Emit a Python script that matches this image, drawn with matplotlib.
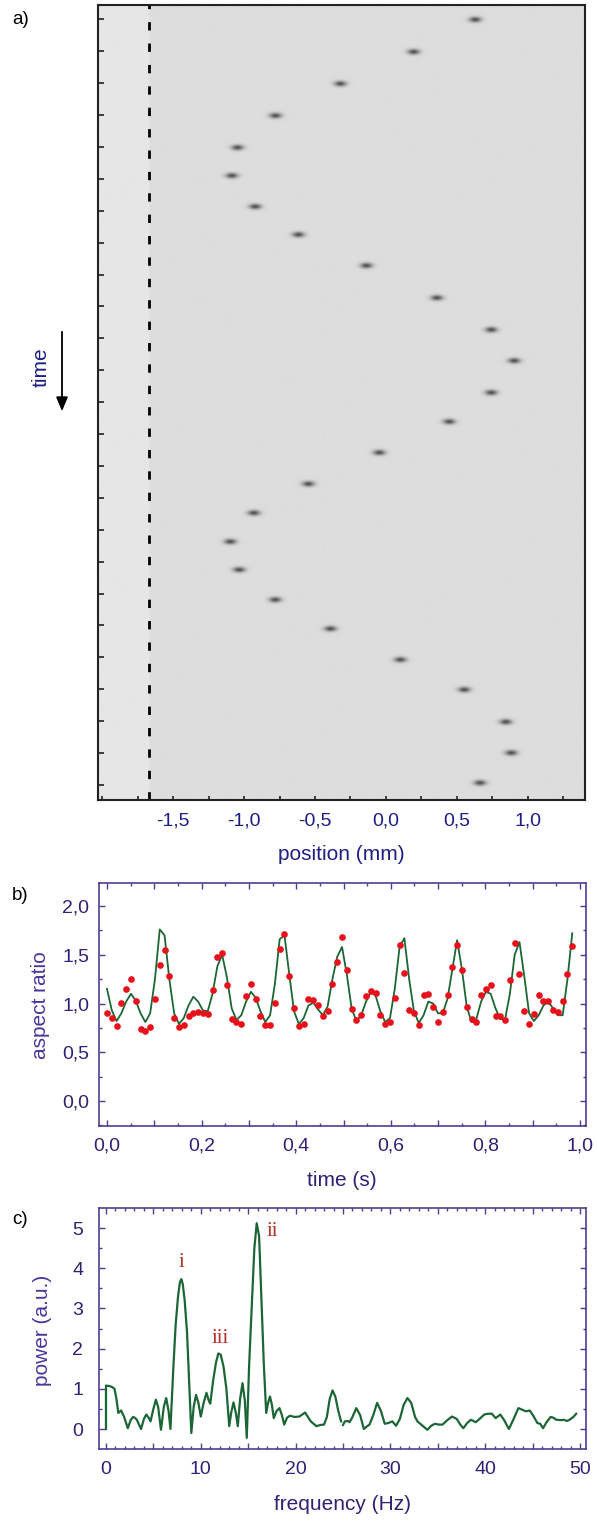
import matplotlib
matplotlib.use("Agg")
import matplotlib.pyplot as plt
import numpy as np
from matplotlib.ticker import MultipleLocator, FuncFormatter

plt.rcParams['font.family'] = ['Liberation Sans', 'DejaVu Sans']

# ---- panel a: particle position in successive frames ----
blob_pos = [0.628, 0.194, -0.323, -0.780, -1.048, -1.088, -0.923, -0.618, -0.139, 0.358,
            0.741, 0.903, 0.741, 0.445, -0.048, -0.548, -0.933, -1.099, -1.036, -0.782,
            -0.393, 0.100, 0.551, 0.844, 0.882, 0.662]
blob_time = [0.02, 1.03, 2.03, 3.03, 4.03, 4.91, 5.88, 6.76, 7.73, 8.74,
             9.74, 10.71, 11.71, 12.62, 13.59, 14.57, 15.48, 16.38, 17.26, 18.20,
             19.11, 20.08, 21.02, 22.03, 23.00, 23.94]
wall_pos = -1.668
pos_ticks = [-1.5, -1.0, -0.5, 0.0, 0.5, 1.0]

# ---- panel b: aspect ratio vs time ----
dt = 0.01014
ratio_meas = [0.90, 0.85, 0.77, 1.01, 1.15, 1.25, 1.03, 0.74, 0.72, 0.76,
              1.05, 1.40, 1.55, 1.28, 0.85, 0.76, 0.78, 0.87, 0.90, 0.91,
              0.90, 0.89, 1.14, 1.48, 1.52, 1.19, 0.84, 0.81, 0.79, 1.08,
              1.20, 1.05, 0.87, 0.78, 0.78, 1.01, 1.56, 1.71, 1.28, 0.95,
              0.77, 0.79, 1.05, 1.04, 0.99, 0.87, 0.92, 1.20, 1.43, 1.68,
              1.34, 0.94, 0.83, 0.88, 1.08, 1.13, 1.11, 0.88, 0.79, 0.81,
              1.06, 1.60, 1.31, 0.93, 0.90, 0.78, 1.085, 1.10, 0.96, 0.81,
              0.91, 1.085, 1.375, 1.60, 1.34, 0.96, 0.84, 0.81, 1.085, 1.146,
              1.19, 0.87, 0.87, 0.83, 1.245, 1.62, 1.30, 0.92, 0.785, 0.89,
              1.085, 1.03, 1.03, 0.93, 0.91, 1.03, 1.307, 1.59]
ratio_fit = [1.15, 0.93, 0.82, 0.90, 1.02, 1.10, 1.03, 0.90, 0.81, 0.90,
             1.25, 1.76, 1.70, 1.25, 0.90, 0.79, 0.85, 0.98, 1.07, 1.02,
             0.93, 0.92, 1.10, 1.38, 1.50, 1.27, 0.95, 0.83, 0.88, 1.02,
             1.12, 1.06, 0.92, 0.81, 0.88, 1.20, 1.66, 1.70, 1.30, 0.92,
             0.79, 0.85, 0.98, 1.01, 0.94, 0.88, 0.97, 1.25, 1.48, 1.58,
             1.30, 0.95, 0.82, 0.88, 1.02, 1.12, 1.08, 0.92, 0.81, 0.85,
             1.15, 1.58, 1.67, 1.25, 0.92, 0.80, 0.88, 1.02, 1.00, 0.90,
             0.90, 1.05, 1.35, 1.65, 1.35, 0.97, 0.81, 0.84, 1.02, 1.12,
             1.10, 0.95, 0.84, 0.84, 1.10, 1.50, 1.63, 1.28, 0.90, 0.82,
             0.88, 0.98, 1.02, 0.95, 0.88, 0.88, 1.25, 1.72]
time_s = np.arange(len(ratio_meas)) * dt

# ---- panel c: power spectrum ----
freq = [0.0, 0.0, 0.3, 0.6, 0.9, 1.1, 1.3, 1.6, 1.9, 2.3, 2.6, 2.85, 3.05, 3.25, 3.7,
        4.0, 4.25, 4.5, 4.7, 5.0, 5.26, 5.5, 5.8, 6.1, 6.35, 6.6, 6.8, 7.1, 7.35, 7.6,
        7.8, 7.95, 8.1, 8.3, 8.55, 8.8, 9.0, 9.25, 9.5, 9.75, 10.0, 10.3, 10.6, 10.85,
        11.0, 11.3, 11.6, 11.85, 12.1, 12.4, 12.7, 13.0, 13.2, 13.45, 13.7, 13.9,
        14.15, 14.4, 14.65, 14.85, 15.1, 15.4, 15.65, 15.9, 16.15, 16.4, 16.65, 16.9,
        17.1, 17.3, 17.5, 17.7, 18.0, 18.3, 18.55, 18.8, 19.1, 19.4, 19.9, 20.4, 21.0,
        21.6, 22.2, 22.6, 23.0, 23.3, 23.6, 23.9, 24.2, 24.5, 24.8, 24.9, 25.0, 25.2,
        25.5, 25.7, 26.0, 26.4, 26.8, 27.2, 27.5, 27.8, 28.2, 28.6, 29.0, 29.4, 29.8,
        30.2, 30.6, 31.0, 31.4, 31.8, 32.2, 32.6, 32.85, 33.3, 33.9, 34.3, 34.7, 35.1,
        35.5, 36.0, 36.5, 37.0, 37.4, 37.7, 38.1, 38.5, 39.0, 39.4, 39.9, 40.3, 40.7,
        41.1, 41.6, 42.0, 42.5, 43.0, 43.5, 43.9, 44.3, 44.7, 45.1, 45.5, 45.8, 46.1,
        46.5, 46.9, 47.2, 47.5, 48.0, 48.3, 48.6, 48.9, 49.3, 49.6]
power = [0.0, 1.08, 1.07, 1.05, 1.0, 0.75, 0.40, 0.46, 0.31, 0.02, 0.22, 0.30, 0.28, 0.23, 0.0,
         0.25, 0.36, 0.28, 0.19, 0.50, 0.73, 0.55, -0.02, 0.55, 0.77, 0.45, 0.0, 1.5, 2.6, 3.3,
         3.65, 3.73, 3.6, 3.2, 2.4, 1.0, -0.1, 0.55, 0.85, 0.65, 0.31, 0.65, 0.90, 0.70,
         0.63, 1.2, 1.65, 1.88, 1.85, 1.55, 1.0, 0.07, 0.40, 0.66, 0.40, 0.07,
         0.75, 1.14, 0.70, -0.22, 1.6, 3.2, 4.5, 5.12, 4.8, 3.2, 1.6, 0.40,
         0.65, 0.81, 0.60, 0.27, 0.45, 0.52, 0.35, 0.11, 0.28, 0.33, 0.30, 0.31, 0.41,
         0.19, 0.07, 0.10, 0.11, 0.30, 0.75, 0.96, 0.80, 0.45, 0.19, np.nan, 0.10, 0.19,
         0.20, 0.17, 0.30, 0.52, 0.35, 0.0, 0.06, 0.11, 0.35, 0.65, 0.45, 0.13, 0.15,
         0.19, 0.08, 0.25, 0.60, 0.77, 0.65, 0.30, 0.19, 0.10, -0.02, 0.08, 0.13, 0.11,
         0.11, 0.22, 0.31, 0.25, 0.10, 0.02, 0.15, 0.23, 0.17, 0.25, 0.36, 0.38, 0.38,
         0.27, 0.36, 0.22, 0.0, 0.25, 0.52, 0.48, 0.44, 0.46, 0.32, 0.15, 0.13, 0.02,
         0.18, 0.30, 0.28, 0.23, 0.22, 0.23, 0.20, 0.23, 0.30, 0.38]
peak_names = ['i', 'iii', 'ii']
peak_f = [8.0, 12.1, 17.5]
peak_p = [4.13, 2.26, 4.92]

W, H = 597, 1522
def fx(x):
    return x / W
def fy(y):
    return 1 - y / H

navy = '#1e1e86'
purple = '#4b3f91'
purple_txt = '#2e2275'
green = '#1c6636'

def comma(v, pos):
    s = '%.1f' % v
    if s == '-0.0':
        s = '0.0'
    return s.replace('.', ',')

fig = plt.figure(figsize=(W / 100, H / 100), dpi=100)

# ================= a) =================
ax_a = fig.add_axes([fx(98), fy(800), (584.5 - 98) / W, (800 - 4.7) / H])
xl = (-2.03, 1.40)
yl = (24.47, -0.46)
xs = np.linspace(xl[0], xl[1], 973)
ys = np.linspace(yl[1], yl[0], 1590)
X, Y = np.meshgrid(xs, ys)
img = np.full(X.shape, 0.865)
img[X < wall_pos] = 0.9
for bx, bt in zip(blob_pos, blob_time):
    img -= 0.55 * np.exp(-0.5 * ((X - bx) / 0.03) ** 2 - 0.5 * ((Y - bt) / 0.06) ** 2)
ax_a.imshow(img, cmap='gray', vmin=0, vmax=1, extent=[xl[0], xl[1], yl[0], yl[1]],
            aspect='auto', interpolation='antialiased')
ax_a.axvline(wall_pos, color='black', lw=2, dashes=(3, 4.7))
ax_a.set_xlim(xl)
ax_a.set_ylim(yl)
ax_a.set_xticks(pos_ticks)
ax_a.xaxis.set_minor_locator(MultipleLocator(0.25))
ax_a.xaxis.set_major_formatter(FuncFormatter(lambda v, p: comma(v, p)))
ax_a.set_yticks(np.arange(0, 25))
ax_a.set_yticklabels([])
ax_a.tick_params(axis='x', which='both', direction='in', length=3, width=1.2,
                 color='#222222', labelsize=14, labelcolor=navy, pad=9)
ax_a.tick_params(axis='y', which='both', direction='in', length=4, width=1.2,
                 color='#222222')
for s in ax_a.spines.values():
    s.set_color('#222222')
    s.set_linewidth(1.5)
fig.text(fx(341), fy(854), 'position (mm)', color=navy, fontsize=15,
         ha='center', va='center')
fig.text(fx(12), fy(20), 'a)', fontsize=13.5, ha='left', va='center')
fig.text(fx(41), fy(367), 'time', color=navy, fontsize=15, rotation=90,
         ha='center', va='center')
fig.add_artist(matplotlib.patches.FancyArrowPatch(
    (fx(62), fy(329)), (fx(62), fy(414)), transform=fig.transFigure,
    arrowstyle='-|>,head_length=0.6,head_width=0.25', mutation_scale=14,
    color='black', lw=1.3))

# ================= b) =================
ax_b = fig.add_axes([fx(99), fy(1126), (585.5 - 99) / W, (1126 - 883.3) / H])
ax_b.plot(time_s, ratio_fit, color=green, lw=1.3, zorder=2)
ax_b.plot(time_s, ratio_meas, 'o', color='#e8101a', ms=4.8, mec='none', zorder=3)
ax_b.set_xlim(-0.0169, 1.0116)
ax_b.set_ylim(-0.256, 2.233)
ax_b.xaxis.set_major_locator(MultipleLocator(0.1))
ax_b.xaxis.set_minor_locator(MultipleLocator(0.05))
ax_b.xaxis.set_major_formatter(FuncFormatter(
    lambda v, p: comma(v, p) if abs(round(v * 10)) % 2 == 0 else ''))
ax_b.yaxis.set_major_locator(MultipleLocator(0.5))
ax_b.yaxis.set_minor_locator(MultipleLocator(0.25))
ax_b.yaxis.set_major_formatter(FuncFormatter(comma))
fig.text(fx(342), fy(1180), 'time (s)', color=purple_txt, fontsize=15,
         ha='center', va='center')
fig.text(fx(41), fy(1005), 'aspect ratio', color='#45389a', fontsize=15,
         rotation=90, ha='center', va='center')
fig.text(fx(12), fy(896), 'b)', fontsize=13.5, ha='left', va='center')

# ================= c) =================
ax_c = fig.add_axes([fx(98.5), fy(1449), (585.5 - 98.5) / W, (1449 - 1208) / H])
ax_c.plot(freq, power, color=green, lw=1.6)
for name, f, p in zip(peak_names, peak_f, peak_p):
    ax_c.text(f, p, name, color='#b5312a', fontsize=15, family='Liberation Serif',
              ha='center', va='center')
ax_c.set_xlim(-0.79, 50.58)
ax_c.set_ylim(-0.4975, 5.498)
ax_c.xaxis.set_major_locator(MultipleLocator(5))
ax_c.xaxis.set_minor_locator(MultipleLocator(1))
ax_c.xaxis.set_major_formatter(FuncFormatter(
    lambda v, p: '%d' % v if int(round(v)) % 10 == 0 else ''))
ax_c.yaxis.set_major_locator(MultipleLocator(1))
ax_c.yaxis.set_minor_locator(MultipleLocator(0.5))
ax_c.yaxis.set_major_formatter(FuncFormatter(lambda v, p: '%d' % v))
fig.text(fx(342), fy(1505), 'frequency (Hz)', color=purple_txt, fontsize=15,
         ha='center', va='center')
fig.text(fx(43), fy(1330), 'power (a.u.)', color='#45389a', fontsize=15,
         rotation=90, ha='center', va='center')
fig.text(fx(12), fy(1220), 'c)', fontsize=13.5, ha='left', va='center')

for ax in (ax_b, ax_c):
    for s in ax.spines.values():
        s.set_color(purple)
        s.set_linewidth(1.2)
    ax.tick_params(which='both', direction='in', top=True, right=True,
                   color=purple, width=1.0, labelcolor=purple_txt, labelsize=14)
    ax.tick_params(which='major', length=4)
    ax.tick_params(which='minor', length=2.5)
ax_b.tick_params(axis='y', pad=7)
ax_b.tick_params(axis='x', pad=8)
ax_c.tick_params(axis='y', pad=11)
ax_c.tick_params(axis='x', pad=9)

fig.savefig('out.png', dpi=100)
